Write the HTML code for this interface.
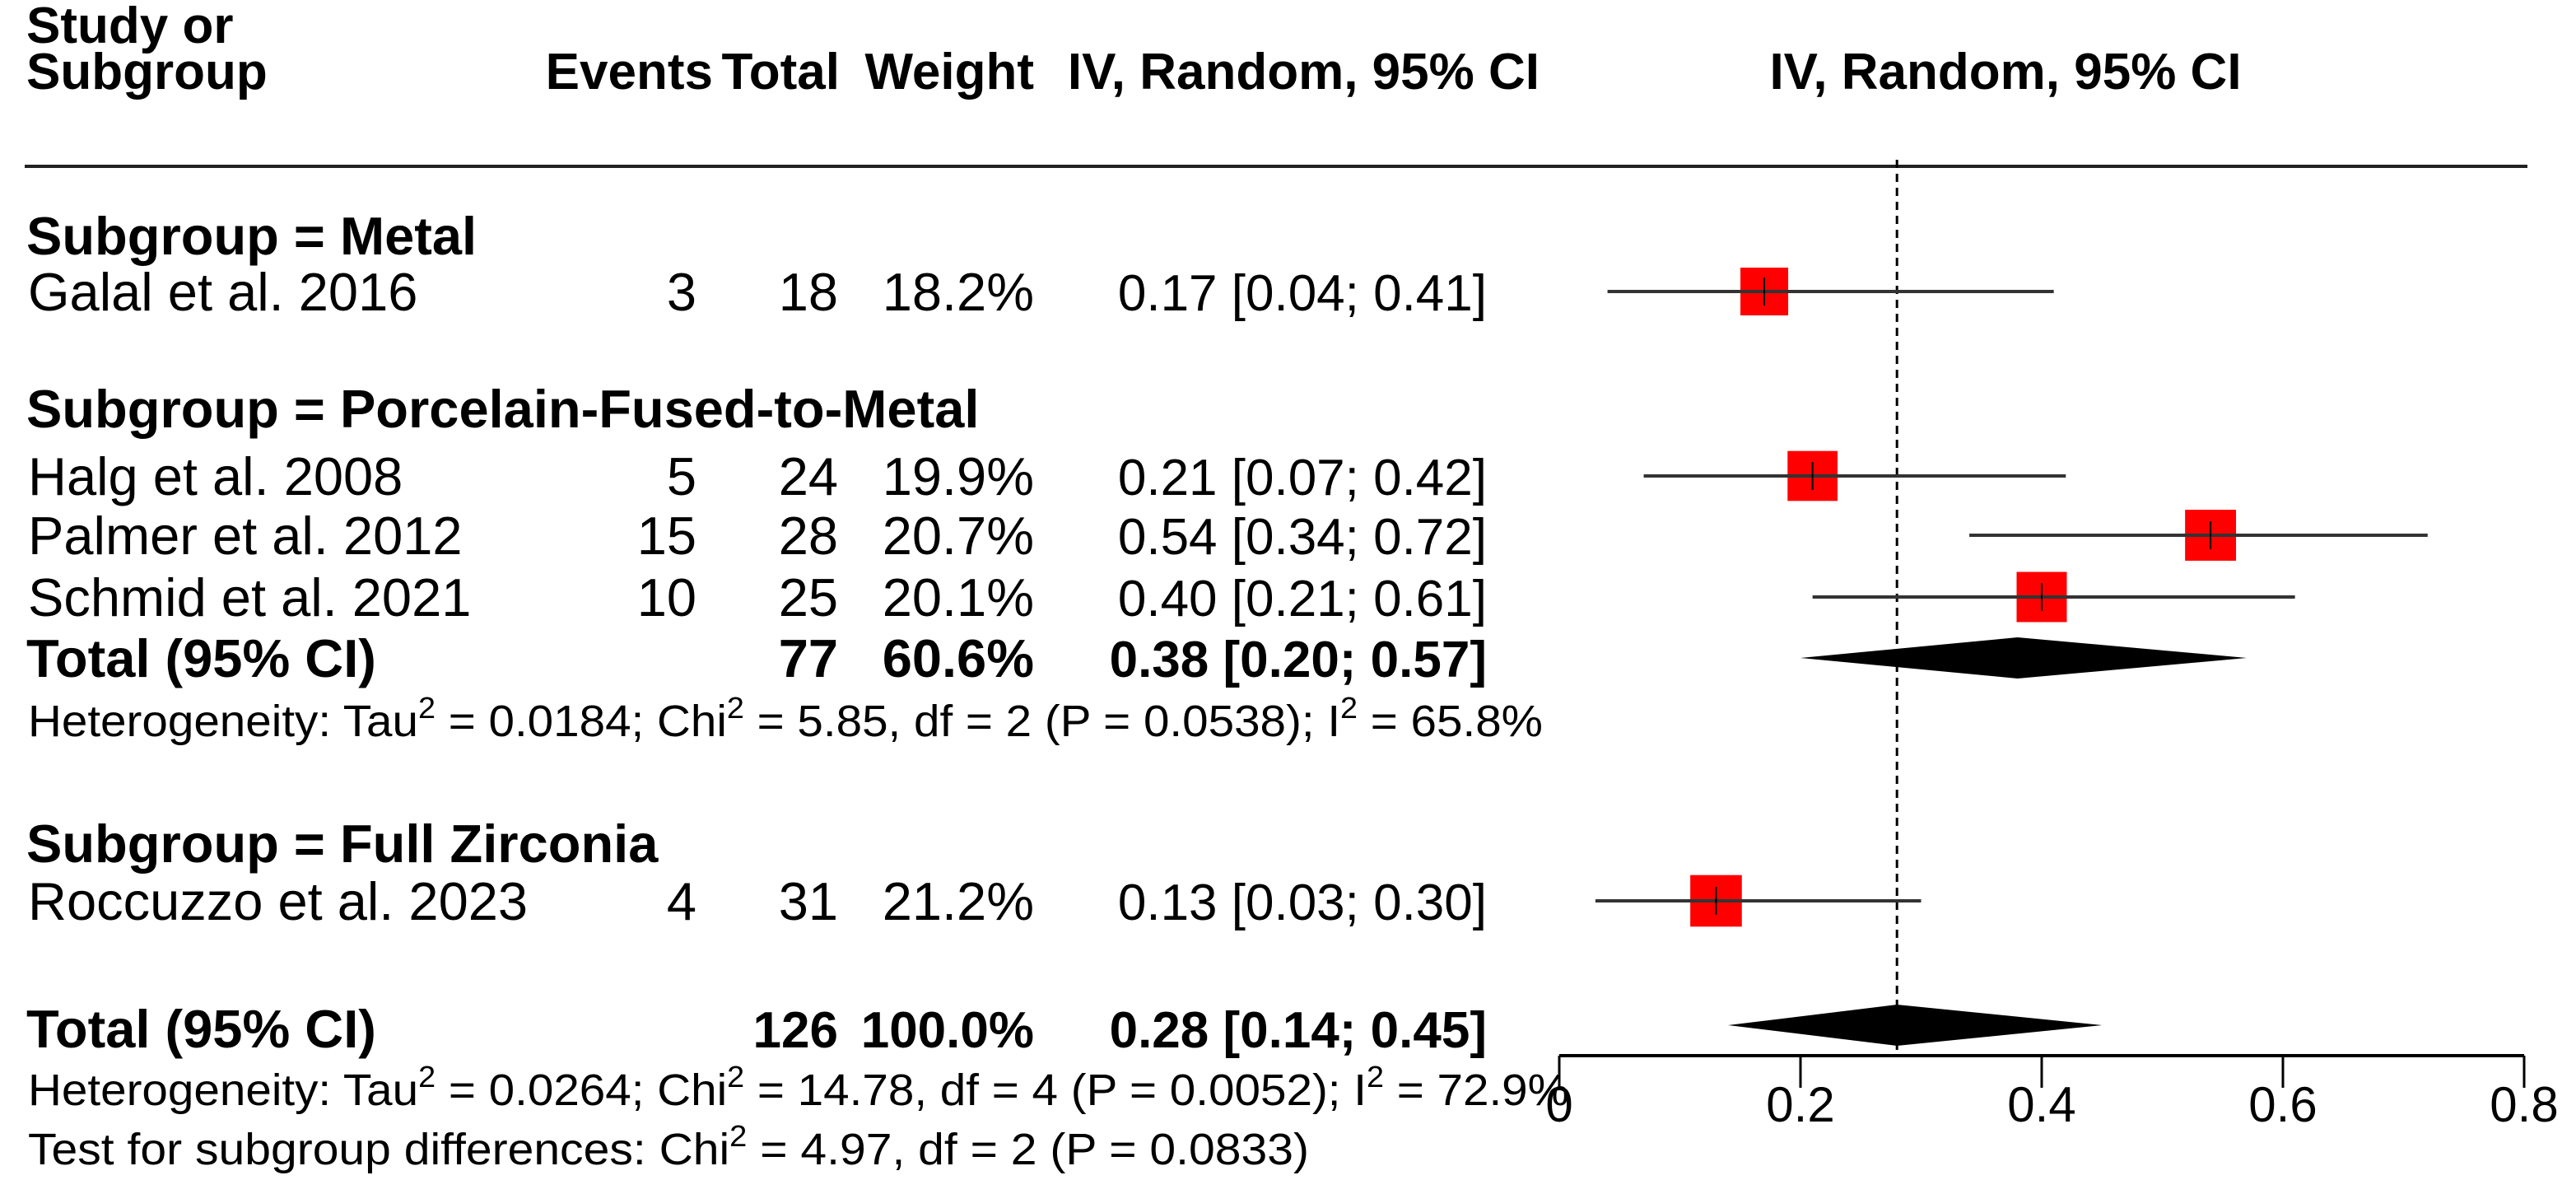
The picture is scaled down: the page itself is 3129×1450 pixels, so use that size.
<!DOCTYPE html>
<html><head><meta charset="utf-8"><style>
html,body{margin:0;padding:0;background:#fff}
svg{display:block;font-family:"Liberation Sans",Arial,sans-serif}
.b{font-weight:bold}
</style></head><body>
<svg id="chart" width="3129" height="1450" viewBox="0 0 3129 1450" xmlns="http://www.w3.org/2000/svg" font-size="65" fill="#000">
<g font-size="62">
<text class="b" x="32" y="52">Study or</text>
<text class="b" x="32" y="108">Subgroup</text>
<text class="b" x="866" y="108" text-anchor="end">Events</text>
<text class="b" x="1020" y="108" text-anchor="end">Total</text>
<text class="b" x="1256" y="108" text-anchor="end">Weight</text>
<text class="b" x="1870" y="108" text-anchor="end">IV, Random, 95% CI</text>
<text class="b" x="2436" y="108" text-anchor="middle">IV, Random, 95% CI</text>
<rect x="30" y="200" width="3040" height="4" fill="#222"/>
</g>
<g id="table"></g>
<g id="plot"></g>
</svg>
<script>
const studies = ["Galal et al. 2016","Halg et al. 2008","Palmer et al. 2012","Schmid et al. 2021","Roccuzzo et al. 2023"];
const events = [3,5,15,10,4];
const totals = [18,24,28,25,31];
const weights = [18.2,19.9,20.7,20.1,21.2];
const est = [0.17,0.21,0.54,0.40,0.13];
const lo = [0.04,0.07,0.34,0.21,0.03];
const hi = [0.41,0.42,0.72,0.61,0.30];
const studyRows = [1,3,4,5,9];
const subEst = [0.38], subLo = [0.20], subHi = [0.57];
const overallEst = [0.28], overallLo = [0.14], overallHi = [0.45];
const ticks = [0,0.2,0.4,0.6,0.8];
const tickLabels = ["0","0.2","0.4","0.6","0.8"];

const NS="http://www.w3.org/2000/svg";
const X0=1894, X1=3066, XMIN=0, XMAX=0.8;
const xs=v=>X0+(v-XMIN)/(XMAX-XMIN)*(X1-X0);
const ROWC=[286,354,496,578,650,725,799,874,1024,1094];
const rowY=r=>ROWC[r];
const table=document.getElementById('table');
const plot=document.getElementById('plot');
function mk(tag,attrs,parent){const e=document.createElementNS(NS,tag);for(const k in attrs)e.setAttribute(k,attrs[k]);parent.appendChild(e);return e;}
function txt(s,x,y,anchor,bold,parent,size,len){
  const t=mk('text',{x:x,y:y},parent);
  if(anchor)t.setAttribute('text-anchor',anchor);
  if(bold)t.setAttribute('font-weight','bold');
  if(size)t.setAttribute('font-size',size);
  if(len){t.setAttribute('textLength',len);t.setAttribute('lengthAdjust','spacingAndGlyphs');}
  t.innerHTML=s;return t;}
const f2=v=>v.toFixed(2);
const sup='<tspan dy="-22" font-size="36">2</tspan><tspan dy="22">';
const subHeads=[["Subgroup = Metal",0],["Subgroup = Porcelain-Fused-to-Metal",2],["Subgroup = Full Zirconia",8]];
subHeads.forEach(s=>{const t=txt(s[0],32,rowY(s[1])+23,null,true,table);

});
studies.forEach((s,i)=>{
  const y=rowY(studyRows[i])+23;
  const g=mk('g',{},table);
  
  
  txt(s,34,y,null,false,g);
  txt(String(events[i]),846,y,'end',false,g);
  txt(String(totals[i]),1018,y,'end',false,g);
  txt(weights[i].toFixed(1)+'%',1256,y,'end',false,g);
  txt(f2(est[i])+' ['+f2(lo[i])+'; '+f2(hi[i])+']',1806,y,'end',false,g,62);
});
let y=rowY(6)+23;
let g=mk('g',{},table);


txt('Total (95% CI)',32,y,null,true,g);
txt('77',1018,y,'end',true,g);
txt('60.6%',1256,y,'end',true,g);
txt(f2(subEst[0])+' ['+f2(subLo[0])+'; '+f2(subHi[0])+']',1806,y,'end',true,g,62);
let h=txt('Heterogeneity: Tau'+sup+' = 0.0184; Chi</tspan>'+sup+' = 5.85, df = 2 (P = 0.0538); I</tspan>'+sup+' = 65.8%</tspan>',34,rowY(7)+20,null,false,table,54,1840);


y=1272;
g=mk('g',{},table);


txt('Total (95% CI)',32,y,null,true,g);
txt('126',1018,y,'end',true,g,62);
txt('100.0%',1256,y,'end',true,g,62);
txt(f2(overallEst[0])+' ['+f2(overallLo[0])+'; '+f2(overallHi[0])+']',1806,y,'end',true,g,62);
h=txt('Heterogeneity: Tau'+sup+' = 0.0264; Chi</tspan>'+sup+' = 14.78, df = 4 (P = 0.0052); I</tspan>'+sup+' = 72.9%</tspan>',34,1342,null,false,table,54,1872);


h=txt('Test for subgroup differences: Chi'+sup+' = 4.97, df = 2 (P = 0.0833)</tspan>',34,1414,null,false,table,54,1556);



const ref=mk('line',{x1:xs(overallEst[0]),x2:xs(overallEst[0]),y1:194,y2:1282,stroke:'#000','stroke-width':3,'stroke-dasharray':'10 7'},plot);


studies.forEach((s,i)=>{
  const cy=rowY(studyRows[i]);
  const gg=mk('g',{},plot);
  
  
  const side=13.6*Math.sqrt(weights[i]);
  mk('rect',{x:xs(est[i])-side/2,y:cy-side/2,width:side,height:side,fill:'#f00'},gg);
  mk('line',{x1:xs(lo[i]),x2:xs(hi[i]),y1:cy,y2:cy,stroke:'#333','stroke-width':4},gg);
  mk('line',{x1:xs(est[i]),x2:xs(est[i]),y1:cy-17,y2:cy+17,stroke:'#000','stroke-width':2},gg);
});
function diamond(e,l,u,cy,name){
  const p=mk('polygon',{points:`${xs(l)},${cy} ${xs(e)},${cy-25} ${xs(u)},${cy} ${xs(e)},${cy+25}`,fill:'#000'},plot);
  
  
}
diamond(subEst[0],subLo[0],subHi[0],rowY(6),'subgroup-diamond');
diamond(overallEst[0],overallLo[0],overallHi[0],1245,'overall-diamond');
const ax=mk('g',{},plot);


mk('line',{x1:xs(ticks[0]),x2:xs(ticks[ticks.length-1]),y1:1282,y2:1282,stroke:'#000','stroke-width':4},ax);
ticks.forEach((t,i)=>{
  mk('line',{x1:xs(t),x2:xs(t),y1:1282,y2:1321,stroke:'#000','stroke-width':3},ax);
  const l=txt(tickLabels[i],xs(t),1362,'middle',false,ax,60);
  
  
});
</script>
</body></html>
